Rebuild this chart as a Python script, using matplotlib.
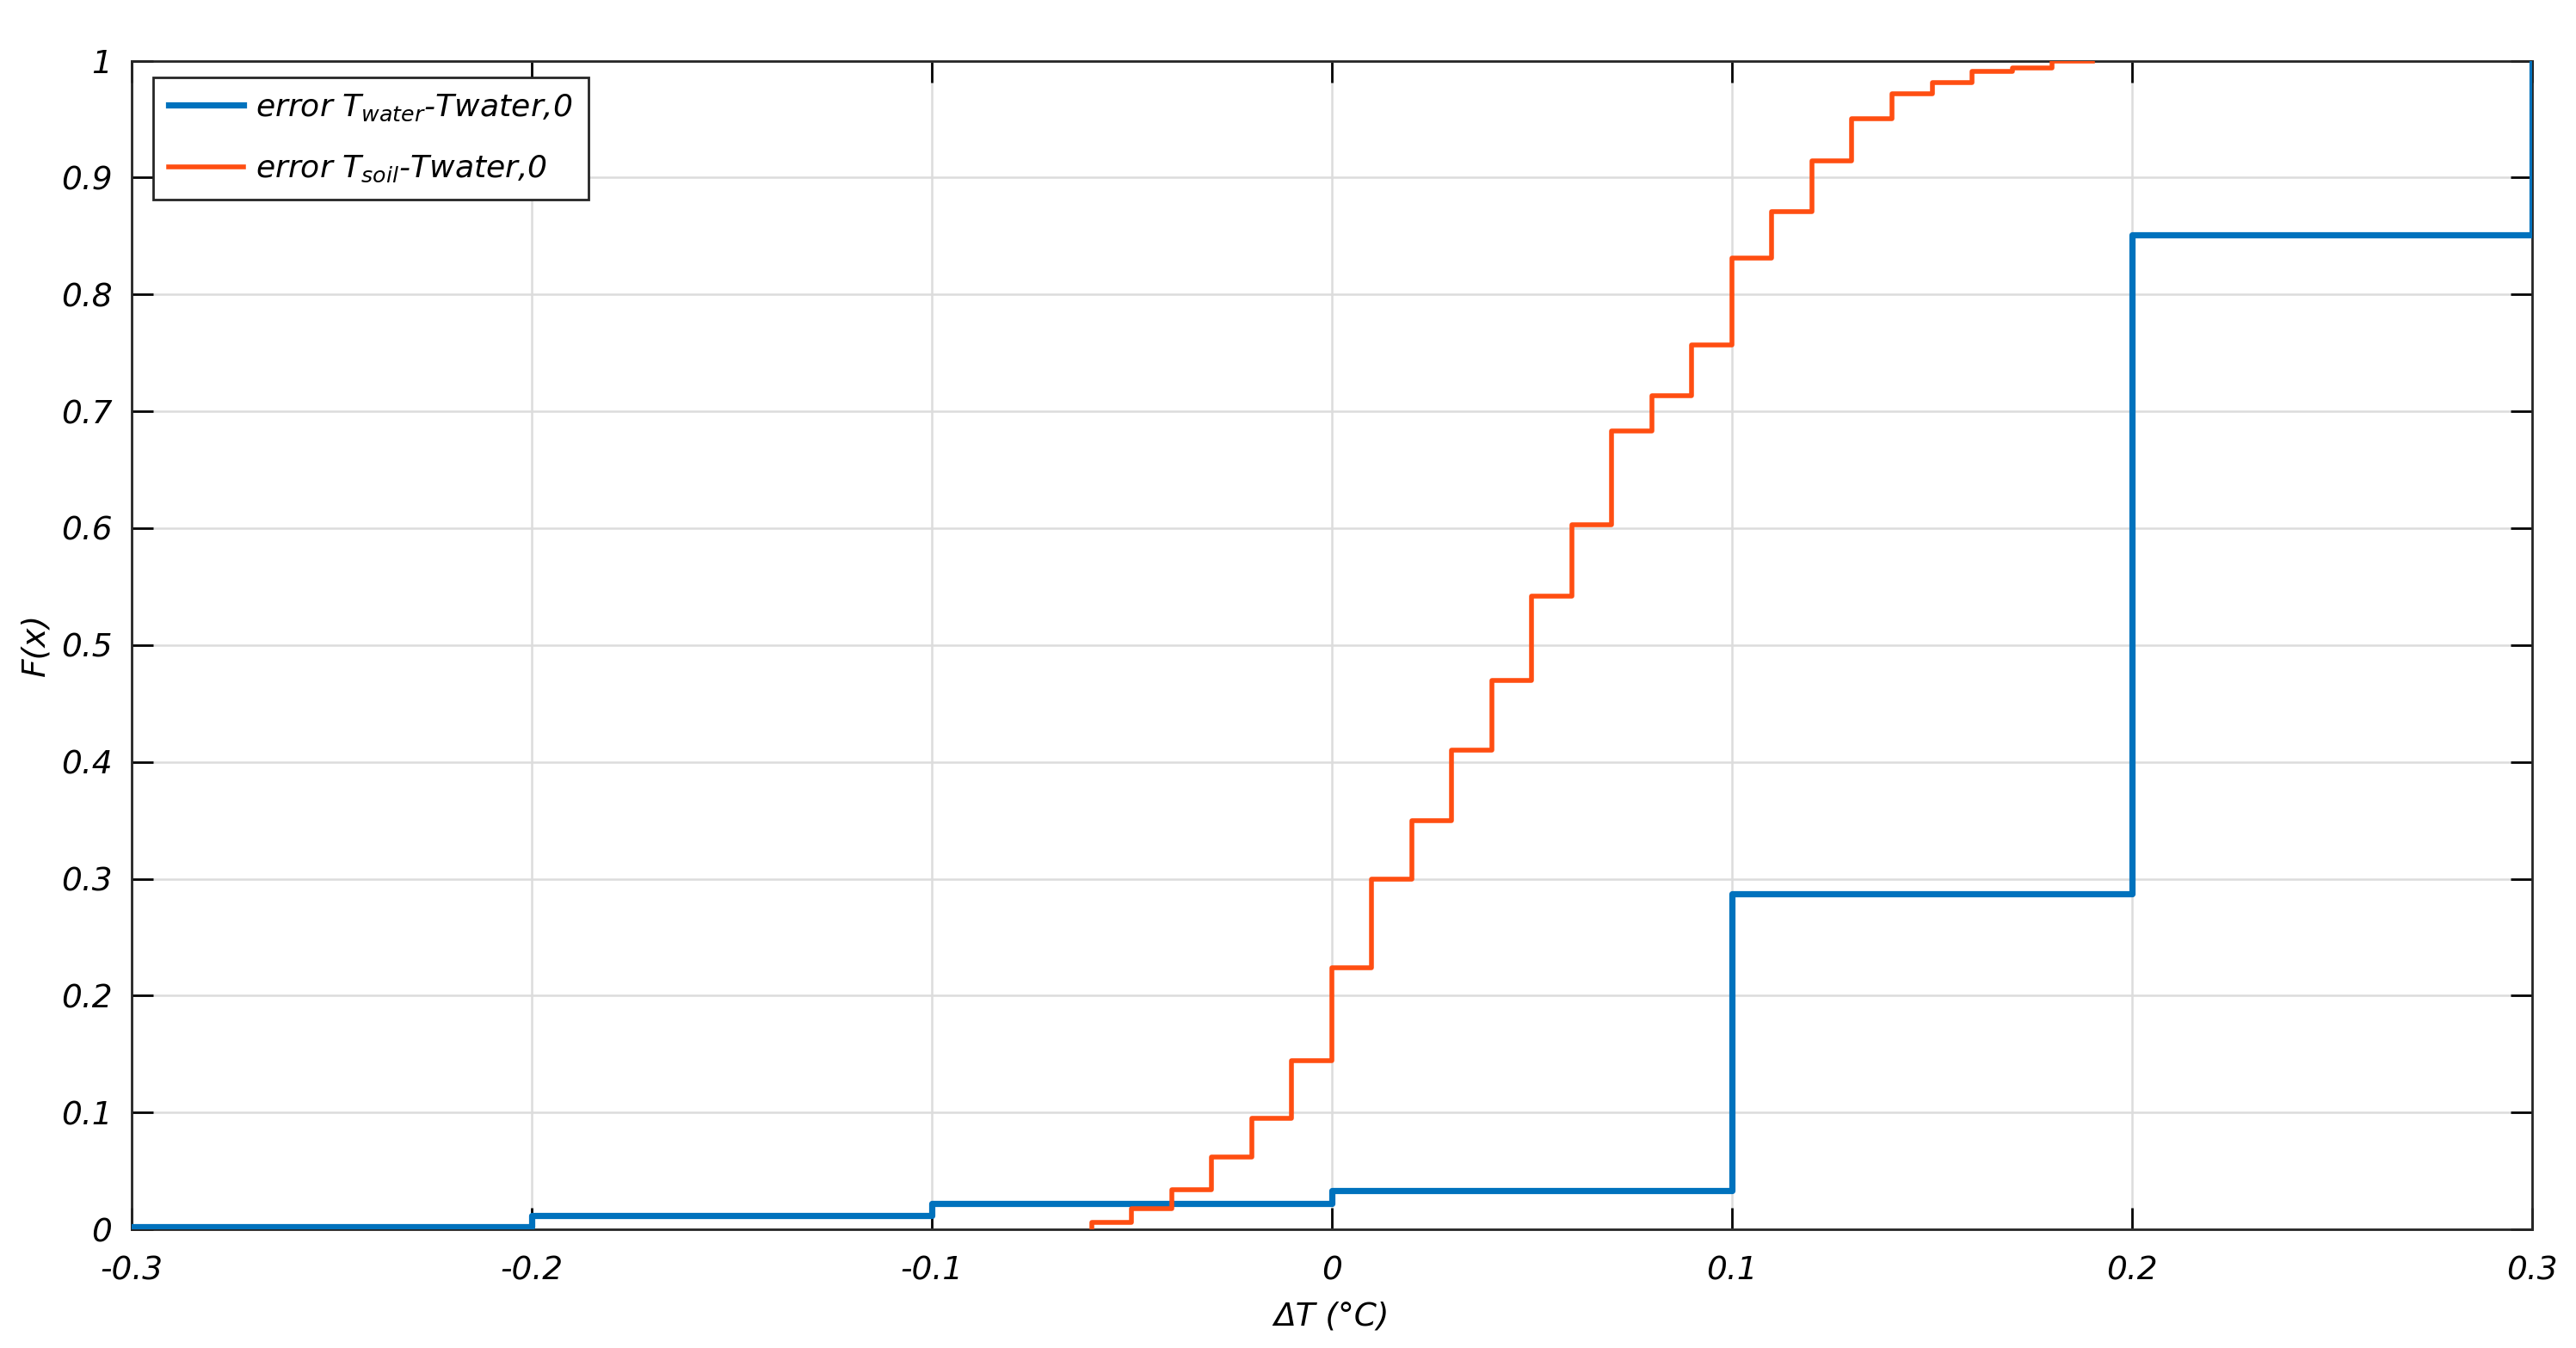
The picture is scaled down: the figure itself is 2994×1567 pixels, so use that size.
import matplotlib
matplotlib.use('Agg')
import matplotlib.pyplot as plt
from matplotlib.ticker import FormatStrFormatter

# blue: error T_water - Twater,0 (empirical CDF, step at each x)
water_x = [-0.3, -0.2, -0.1, 0.0, 0.1, 0.2, 0.3]
water_F = [0.002, 0.012, 0.022, 0.033, 0.287, 0.851, 1.0]

# orange: error T_soil - Twater,0
soil_x = [-0.06, -0.05, -0.04, -0.03, -0.02, -0.01, 0.0, 0.01, 0.02, 0.03,
          0.04, 0.05, 0.06, 0.07, 0.08, 0.09, 0.10, 0.11, 0.12, 0.13,
          0.14, 0.15, 0.16, 0.17, 0.18]
soil_F = [0.006, 0.018, 0.034, 0.062, 0.095, 0.144, 0.224, 0.300, 0.350, 0.410,
          0.470, 0.542, 0.603, 0.683, 0.713, 0.757, 0.831, 0.871, 0.914, 0.950,
          0.972, 0.981, 0.991, 0.994, 1.0]
soil_end = 0.19

x_ticks = [-0.3, -0.2, -0.1, 0, 0.1, 0.2, 0.3]
y_ticks = [0, 0.1, 0.2, 0.3, 0.4, 0.5, 0.6, 0.7, 0.8, 0.9, 1]

plt.rcParams['font.family'] = ['DejaVu Sans']
plt.rcParams['font.style'] = 'italic'
plt.rcParams['mathtext.fontset'] = 'custom'
plt.rcParams['mathtext.it'] = 'DejaVu Sans:italic'
plt.rcParams['mathtext.rm'] = 'DejaVu Sans:italic'
plt.rcParams['mathtext.default'] = 'it'

fig = plt.figure(figsize=(14.97, 7.835), dpi=200)
ax = fig.add_axes([0.051, 0.088, 0.932, 0.867])

ax.step(water_x, water_F, where='post', color='#0072BD', lw=2.6,
        label='error T$_{water}$-Twater,0', zorder=3)
# orange starts from zero at its first point
sx = [soil_x[0]] + soil_x + [soil_end]
sy = [0] + soil_F + [soil_F[-1]]
ax.step(sx, sy, where='post', color='#FF4E12', lw=2.0,
        label='error T$_{soil}$-Twater,0', zorder=4)

ax.set_xlim(-0.3, 0.3)
ax.set_ylim(0, 1)
ax.set_xticks(x_ticks)
ax.set_yticks(y_ticks)
ax.xaxis.set_major_formatter(FormatStrFormatter('%g'))
ax.yaxis.set_major_formatter(FormatStrFormatter('%g'))
ax.tick_params(direction='in', top=True, right=True, length=9, width=1.0,
               labelsize=13.5, pad=8)
ax.tick_params(axis='x', pad=11)
ax.grid(True, color='#dcdcdc', lw=0.9)
ax.set_axisbelow(True)
for s in ax.spines.values():
    s.set_linewidth(1.0)
    s.set_color('#262626')

ax.set_xlabel('ΔT (°C)', fontsize=13.5, labelpad=6)
ax.set_ylabel('F(x)', fontsize=13.5, labelpad=4)

leg = ax.legend(loc='upper left', bbox_to_anchor=(0.009, 0.986), borderaxespad=0,
                fontsize=13, fancybox=False, framealpha=1, edgecolor='#262626',
                handlelength=2.4, handletextpad=0.4, borderpad=0.5,
                labelspacing=1.0)
leg.get_frame().set_linewidth(1.0)

fig.savefig('out.png', dpi=200)
